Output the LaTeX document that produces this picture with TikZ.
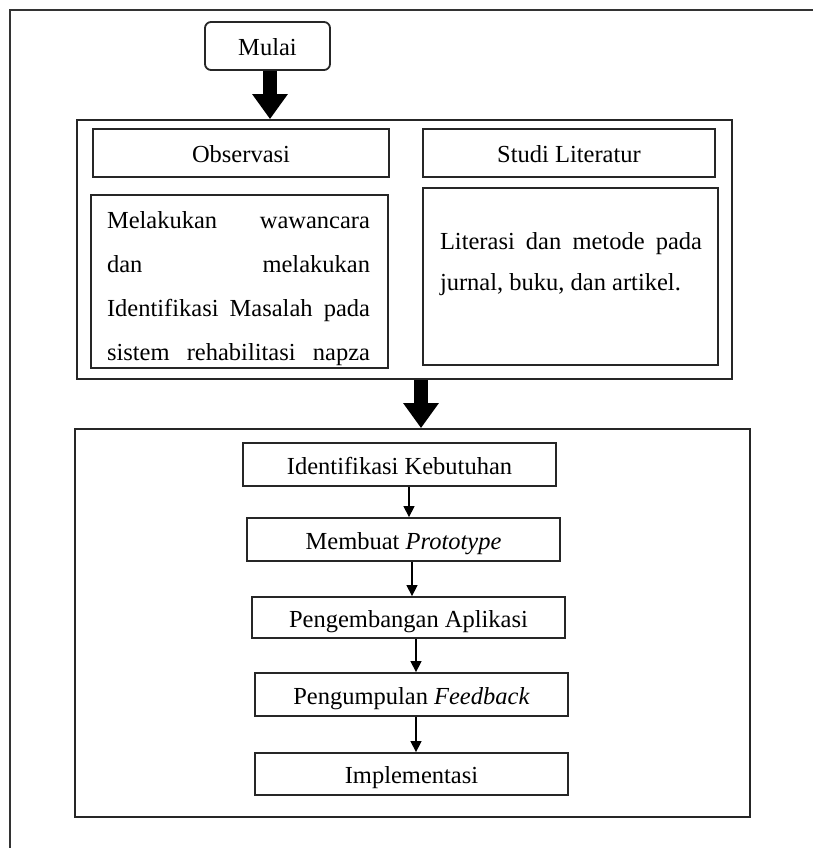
\documentclass[tikz,border=0pt]{standalone}
\usepackage{fontspec}
\setmainfont{Liberation Serif}
\usetikzlibrary{arrows.meta,calc}
\begin{document}
\begin{tikzpicture}[x=1pt,y=-1pt,
 box/.style={draw=black!85, line width=1.8pt, inner sep=0pt, text height=19pt, text depth=0pt, font=\fontsize{24.5}{29}\selectfont},
 frame/.style={draw=black!80, line width=1.8pt},
 bigarrow/.style={line width=14pt, -{Triangle[width=34pt,length=25pt]}},
 smallarrow/.style={line width=1.3pt, -{Triangle[width=11pt,length=11pt]}},
 txt/.style={inner sep=0pt, align=left}]
\useasboundingbox (0,0) rectangle (813,848);
\fill[white] (0,0) rectangle (813,848);
\draw[frame] (10,848) -- (10,10) -- (813,10);

% start
\node[box, rounded corners=6pt, minimum width=125pt, minimum height=48pt] (mulai) at (267.5,46) {Mulai};

% upper container
\node[box, minimum width=655pt, minimum height=259pt] (upper) at (404.5,249.5) {};
\node[box, minimum width=296pt, minimum height=48pt] (obs) at (241,153) {Observasi};
\node[box, minimum width=292pt, minimum height=48pt] (studi) at (569,153) {Studi Literatur};
\node[box, minimum width=297pt, minimum height=173pt] (obsbox) at (239.5,281.5) {};
\node[box, minimum width=295pt, minimum height=177pt] (litbox) at (570.5,276.5) {};
\node[txt, font=\fontsize{24.5}{44}\selectfont] (obstxt) at (238.5,289) {%
\makebox[263pt][s]{Melakukan wawancara}\\
\makebox[263pt][s]{dan melakukan}\\
\makebox[263pt][s]{Identifikasi Masalah pada}\\
\makebox[263pt][s]{sistem rehabilitasi napza}};
\node[txt, font=\fontsize{24.5}{41}\selectfont] (littxt) at (571,264.5) {%
\makebox[262pt][s]{Literasi dan metode pada}\\
\makebox[262pt][l]{jurnal, buku, dan artikel.}};

% lower container
\node[box, minimum width=675pt, minimum height=388pt] (lower) at (412.5,623) {};
\node[box, minimum width=313pt, minimum height=43pt] (k1) at (399.5,464.5) {Identifikasi Kebutuhan};
\node[box, minimum width=313pt, minimum height=43pt] (k2) at (403.5,539.5) {Membuat \textit{Prototype}};
\node[box, minimum width=313pt, minimum height=41pt] (k3) at (408.5,617.5) {Pengembangan Aplikasi};
\node[box, minimum width=313pt, minimum height=43pt] (k4) at (411.5,694.5) {Pengumpulan \textit{Feedback}};
\node[box, minimum width=313pt, minimum height=42pt] (k5) at (411.5,774) {Implementasi};

% arrow columns
\coordinate (a1) at (270,0);
\coordinate (a2) at (421,0);
\coordinate (c1) at (409,0);
\coordinate (c2) at (412,0);
\coordinate (c3) at (416,0);
\coordinate (c4) at (416,0);

\draw[bigarrow] (mulai.south -| a1) -- (upper.north -| a1);
\draw[bigarrow] (upper.south -| a2) -- (lower.north -| a2);
\draw[smallarrow] (k1.south -| c1) -- (k2.north -| c1);
\draw[smallarrow] (k2.south -| c2) -- (k3.north -| c2);
\draw[smallarrow] (k3.south -| c3) -- (k4.north -| c3);
\draw[smallarrow] (k4.south -| c4) -- (k5.north -| c4);
\end{tikzpicture}
\end{document}
